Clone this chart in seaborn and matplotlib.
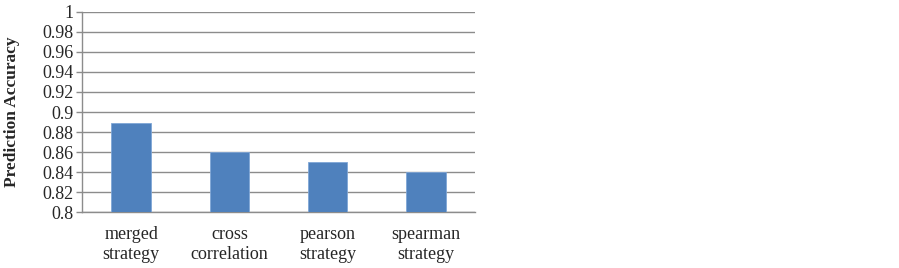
import matplotlib
matplotlib.use("Agg")
import matplotlib.pyplot as plt
import seaborn as sns
import pandas as pd

categories = ["merged\nstrategy", "cross\ncorrelation", "pearson\nstrategy", "spearman\nstrategy"]
accuracy = [0.889, 0.86, 0.85, 0.84]
yticks = [0.8, 0.82, 0.84, 0.86, 0.88, 0.9, 0.92, 0.94, 0.96, 0.98, 1.0]
ytick_labels = ["0.8", "0.82", "0.84", "0.86", "0.88", "0.9", "0.92", "0.94", "0.96", "0.98", "1"]

sns.set_theme(style="white")
plt.rcParams['font.family'] = ['Liberation Serif', 'DejaVu Serif']

df = pd.DataFrame({"cat": categories, "acc": accuracy})

fig = plt.figure(figsize=(8.99, 2.68), dpi=100)
ax = fig.add_axes([82/899, 1 - 212.3/268, (475-82)/899, (212.3-11.7)/268])

sns.barplot(data=df, x="cat", y="acc", color="#4F81BD", width=0.4, ax=ax,
            edgecolor="#7FA6D6", linewidth=0.6, saturation=1, zorder=3)

ax.set_ylim(0.8, 1.0)
ax.set_xlim(-0.5, 3.5)
ax.set_yticks(yticks)
ax.set_yticklabels(ytick_labels, fontsize=13)
ax.yaxis.grid(True, color="#8C8C8C", linewidth=1.0, zorder=0)
ax.set_axisbelow(True)
ax.tick_params(axis="x", length=0, labelsize=13, pad=10)
ax.tick_params(axis="y", length=4, width=1, color="#8C8C8C", left=True, pad=2)
for s in ["top", "right"]:
    ax.spines[s].set_visible(False)
for s in ["left", "bottom"]:
    ax.spines[s].set_color("#8C8C8C")
    ax.spines[s].set_linewidth(1.0)
ax.set_xlabel("")
ax.set_ylabel("Prediction Accuracy", fontsize=12.5, fontweight="bold")
ax.yaxis.set_label_coords(-62/393, 0.5)

fig.savefig("out.png", dpi=100)
